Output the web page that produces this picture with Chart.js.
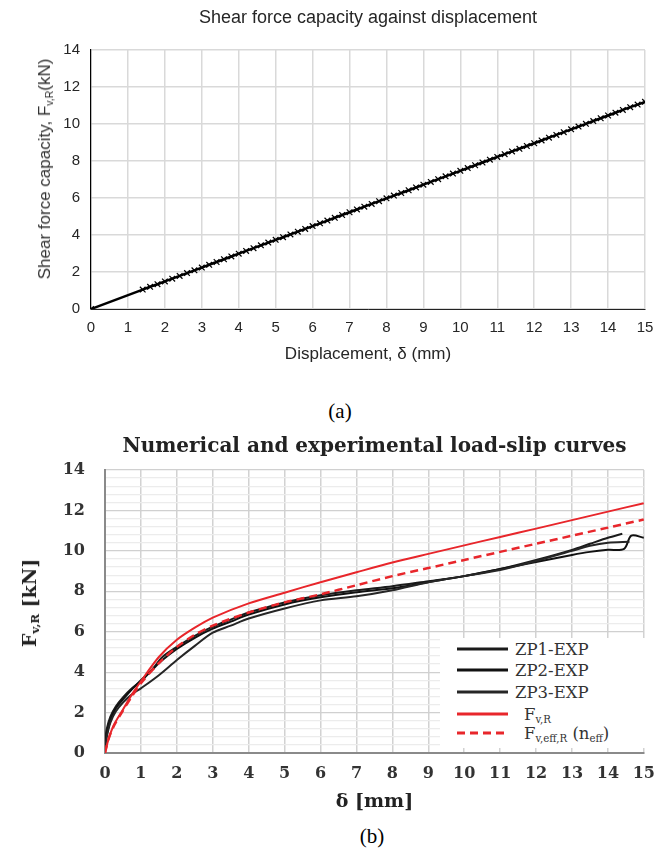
<!DOCTYPE html>
<html>
<head>
<meta charset="utf-8">
<script src="https://cdn.jsdelivr.net/npm/chart.js"></script>
<style>
  html, body { margin: 0; padding: 0; background: #fff; }
  body { width: 666px; height: 850px; position: relative; overflow: hidden; }
  canvas { position: absolute; left: 0; }
  #chartA { top: 0; }
  #chartB { top: 425px; }
  .rot { position: absolute; transform: translate(-50%, -50%) rotate(-90deg); white-space: nowrap; }
  #ytitleA { left: 45px; top: 169px; font: 17px "Liberation Sans", Arial, sans-serif; color: #333; }
  #ytitleB { left: 29px; top: 603px; font: bold 19px "DejaVu Serif", serif; color: #222; }
  sub { font-size: 0.62em; vertical-align: -0.28em; line-height: 0; }
  .cap { position: absolute; transform: translate(-50%, -50%); font: 21px "Liberation Serif", "Times New Roman", serif; color: #000; }
  #legB { position: absolute; left: 440px; top: 638px; width: 216px; height: 110px; background: #fff; }
  #legB .row { position: absolute; left: 17px; height: 20px; display: flex; align-items: center;
               font: 16.5px "DejaVu Serif", serif; color: #333; white-space: nowrap; }
  #legB svg { margin-right: 7px; }
</style>
</head>
<body>
<canvas id="chartA" width="666" height="380"></canvas>
<canvas id="chartB" width="666" height="392"></canvas>
<div id="ytitleA" class="rot">Shear force capacity, F<sub>v,R</sub>(kN)</div>
<div id="ytitleB" class="rot">F<sub>v,R</sub> [kN]</div>
<div class="cap" style="left:340px; top:411px;">(a)</div>
<div class="cap" style="left:372px; top:836px;">(b)</div>
<div id="legB"></div>
<script>
// ---- chart (a): shear force capacity vs displacement
const dispA = [0, 1.4, 1.6, 1.8, 2.0, 2.2, 2.4, 2.6, 2.8, 3.0, 3.2, 3.4, 3.6, 3.8, 4.0, 4.2, 4.4, 4.6, 4.8,
  5.0, 5.2, 5.4, 5.6, 5.8, 6.0, 6.2, 6.4, 6.6, 6.8, 7.0, 7.2, 7.4, 7.6, 7.8, 8.0, 8.2, 8.4, 8.6, 8.8,
  9.0, 9.2, 9.4, 9.6, 9.8, 10.0, 10.2, 10.4, 10.6, 10.8, 11.0, 11.2, 11.4, 11.6, 11.8, 12.0, 12.2, 12.4,
  12.6, 12.8, 13.0, 13.2, 13.4, 13.6, 13.8, 14.0, 14.2, 14.4, 14.6, 14.8, 15.0]
const forceA = [0, 1.05, 1.2, 1.34, 1.49, 1.64, 1.79, 1.94, 2.09, 2.24, 2.39, 2.54, 2.69, 2.84, 2.99, 3.14, 3.29, 3.44, 3.59,
  3.74, 3.88, 4.03, 4.18, 4.33, 4.48, 4.63, 4.78, 4.93, 5.08, 5.23, 5.38, 5.53, 5.68, 5.83, 5.98, 6.13, 6.27, 6.42, 6.57,
  6.72, 6.87, 7.02, 7.17, 7.32, 7.47, 7.62, 7.77, 7.92, 8.07, 8.22, 8.37, 8.52, 8.66, 8.81, 8.96, 9.11, 9.26,
  9.41, 9.56, 9.71, 9.86, 10.01, 10.16, 10.31, 10.46, 10.61, 10.76, 10.91, 11.05, 11.2]

// ---- chart (b): numerical and experimental load-slip curves, [slip mm, force kN]
const zp1 = [[0,0.6],[0.05,1.2],[0.15,1.8],[0.3,2.3],[0.5,2.75],[0.75,3.2],[1,3.55],[1.3,4.1],[1.6,4.75],[2,5.25],
  [2.5,5.8],[3,6.25],[3.5,6.6],[4,6.95],[4.5,7.2],[5,7.45],[6,7.8],[7,8.05],[8,8.25],[9,8.5],[10,8.75],[11,9.1],
  [12,9.55],[13,10.05],[13.5,10.35],[14,10.65],[14.4,10.85]]
const zp2 = [[0,0.3],[0.05,0.9],[0.15,1.6],[0.3,2.2],[0.5,2.65],[0.75,3.15],[1,3.6],[1.3,4.1],[1.6,4.6],[2,5.15],
  [2.5,5.7],[3,6.15],[3.5,6.5],[4,6.85],[5,7.35],[6,7.7],[7,7.95],[8,8.15],[9,8.45],[10,8.75],[11,9.1],[12,9.45],
  [13,9.8],[13.5,9.95],[14,10.05],[14.45,10.1],[14.65,10.75],[15,10.65]]
const zp3 = [[0,0.2],[0.05,0.8],[0.15,1.5],[0.3,2.05],[0.5,2.5],[0.75,2.9],[1,3.2],[1.5,3.85],[2,4.6],[2.5,5.3],
  [3,5.95],[3.5,6.3],[4,6.65],[5,7.15],[6,7.55],[7,7.75],[8,8.05],[9,8.45],[10,8.75],[11,9.05],[12,9.5],[13,10.0],
  [13.5,10.25],[14,10.4],[14.6,10.45]]
const fvR = [[0,0],[0.1,0.7],[0.25,1.4],[0.5,2.15],[0.75,2.9],[1,3.55],[1.5,4.75],[2,5.6],[2.5,6.2],[3,6.7],
  [4,7.4],[5,7.93],[6,8.45],[7,8.94],[8,9.42],[9,9.85],[10,10.27],[11,10.69],[12,11.1],[13,11.52],[14,11.94],[15,12.36]]
const fvEff = [[0,0],[0.1,0.7],[0.25,1.35],[0.5,2.1],[0.75,2.8],[1,3.45],[1.5,4.45],[2,5.25],[2.5,5.85],[3,6.3],
  [4,6.95],[5,7.45],[6,7.85],[7,8.3],[8,8.75],[9,9.15],[10,9.55],[11,9.95],[12,10.35],[13,10.75],[14,11.15],[15,11.55]]

const legendNames = ['ZP1-EXP', 'ZP2-EXP', 'ZP3-EXP', 'F<sub>v,R</sub>', 'F<sub>v,eff,R</sub> (n<sub>eff</sub>)']

const sansA = '"Liberation Sans", Arial, sans-serif'
const serifB = '"DejaVu Serif", serif'

new Chart(document.getElementById('chartA'), {
  type: 'line',
  data: {
    datasets: [{
      data: dispA.map((x, i) => ({ x: x, y: forceA[i] })),
      borderColor: '#000',
      borderWidth: 2.5,
      pointStyle: 'crossRot',
      pointRadius: 4,
      pointBorderWidth: 1.2,
      pointBorderColor: '#000',
      tension: 0
    }]
  },
  options: {
    responsive: false,
    animation: false,
    layout: { padding: { left: 0, right: 21, top: 0, bottom: 0 } },
    plugins: {
      legend: { display: false },
      tooltip: { enabled: false },
      title: {
        display: true,
        fullSize: false,
        text: 'Shear force capacity against displacement',
        color: '#262626',
        font: { family: sansA, size: 18, weight: 'normal' },
        padding: { top: 7, bottom: 21.4 }
      }
    },
    scales: {
      x: {
        type: 'linear', min: 0, max: 15,
        ticks: { stepSize: 1, autoSkip: false, maxRotation: 0, padding: 10, color: '#262626', font: { family: sansA, size: 15 } },
        grid: { color: '#d9d9d9', lineWidth: 1.5, drawTicks: false },
        border: { color: '#222', width: 1 },
        title: { display: true, text: 'Displacement, δ (mm)', color: '#262626', font: { family: sansA, size: 17 }, padding: { top: 0, bottom: 15.8 } },
        afterFit: s => { s.height = 71 }
      },
      y: {
        min: 0, max: 14,
        ticks: { stepSize: 2, autoSkip: false, padding: 11, color: '#262626', font: { family: sansA, size: 15 } },
        grid: { color: '#d9d9d9', lineWidth: 1.5, drawTicks: false },
        border: { color: '#000', width: 1.2 },
        afterFit: s => { s.width = 91 }
      }
    }
  }
})

const pts = arr => arr.map(p => ({ x: p[0], y: p[1] }))
const seriesB = [
  { data: zp1, color: '#1b1b1b', dash: [] },
  { data: zp2, color: '#111', dash: [] },
  { data: zp3, color: '#262626', dash: [] },
  { data: fvR, color: '#e8262b', dash: [] },
  { data: fvEff, color: '#e8262b', dash: [8, 5] }
]

new Chart(document.getElementById('chartB'), {
  type: 'line',
  data: {
    datasets: seriesB.map((s, i) => ({
      label: legendNames[i],
      data: pts(s.data),
      borderColor: s.color,
      borderWidth: i === 4 ? 2.5 : 2,
      borderDash: s.dash,
      pointRadius: 0,
      tension: 0.3
    })).reverse()
  },
  options: {
    responsive: false,
    animation: false,
    layout: { padding: { left: 0, right: 10, top: 0, bottom: 0 } },
    plugins: {
      legend: { display: false },
      tooltip: { enabled: false },
      title: {
        display: true,
        fullSize: false,
        text: 'Numerical and experimental load-slip curves',
        color: '#222',
        font: { family: serifB, size: 20, weight: 'bold' },
        padding: { top: 10, bottom: 11 }
      }
    },
    scales: {
      x: {
        type: 'linear', min: 0, max: 15,
        ticks: { stepSize: 1, autoSkip: false, maxRotation: 0, padding: 11, color: '#333', font: { family: serifB, size: 16, weight: 'bold' } },
        grid: { color: '#d2d2d2', lineWidth: 1.5, drawTicks: false },
        border: { color: '#8a8a8a', width: 2 },
        title: { display: true, text: 'δ [mm]', color: '#222', font: { family: serifB, size: 19, weight: 'bold' }, padding: { top: 0, bottom: 3.6 } },
        afterFit: s => { s.height = 64 }
      },
      y: {
        min: 0, max: 14,
        ticks: {
          stepSize: 0.4, autoSkip: false, padding: 20, color: '#333', font: { family: serifB, size: 16, weight: 'bold' },
          callback: v => Math.abs(v / 2 - Math.round(v / 2)) < 1e-6 ? String(Math.round(v)) : ''
        },
        grid: {
          drawTicks: false,
          lineWidth: 1.2,
          color: c => Math.abs(c.tick.value / 2 - Math.round(c.tick.value / 2)) < 1e-6 ? '#d0d0d0' : '#ececec'
        },
        border: { color: '#8a8a8a', width: 2 },
        afterFit: s => { s.width = 105 }
      }
    }
  }
})

// legend for chart (b), built from the same series styles
const leg = document.getElementById('legB')
const rowTops = [11, 32, 54, 76, 95]
seriesB.forEach((s, i) => {
  const row = document.createElement('div')
  row.className = 'row'
  row.style.top = (rowTops[i] - 10) + 'px'
  row.innerHTML = '<svg width="51" height="6"><line x1="0" y1="3" x2="51" y2="3" stroke="' + s.color +
    '" stroke-width="3" stroke-dasharray="' + (s.dash.length ? s.dash.join(',') : 'none') + '"/></svg>' +
    '<span style="margin-left:' + (i >= 3 ? 9 : 0) + 'px">' + legendNames[i] + '</span>'
  leg.appendChild(row)
})
</script>
</body>
</html>
